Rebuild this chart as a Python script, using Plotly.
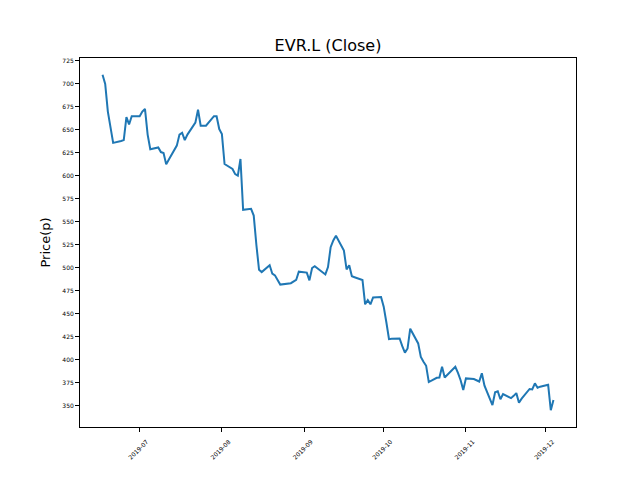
import pandas as pd
import plotly.graph_objects as go

dates = [
    "2019-06-17", "2019-06-18", "2019-06-19", "2019-06-20", "2019-06-21",
    "2019-06-24", "2019-06-25", "2019-06-26", "2019-06-27", "2019-06-28",
    "2019-07-01", "2019-07-02", "2019-07-03", "2019-07-04", "2019-07-05",
    "2019-07-08", "2019-07-09", "2019-07-10", "2019-07-11", "2019-07-12",
    "2019-07-15", "2019-07-16", "2019-07-17", "2019-07-18", "2019-07-19",
    "2019-07-22", "2019-07-23", "2019-07-24", "2019-07-25", "2019-07-26",
    "2019-07-29", "2019-07-30", "2019-07-31",
    "2019-08-01", "2019-08-02", "2019-08-05", "2019-08-06", "2019-08-07",
    "2019-08-08", "2019-08-09", "2019-08-12", "2019-08-13", "2019-08-14",
    "2019-08-15", "2019-08-16", "2019-08-19", "2019-08-20", "2019-08-21",
    "2019-08-22", "2019-08-23", "2019-08-27", "2019-08-28", "2019-08-29",
    "2019-08-30",
    "2019-09-02", "2019-09-03", "2019-09-04", "2019-09-05", "2019-09-06",
    "2019-09-09", "2019-09-10", "2019-09-11", "2019-09-12", "2019-09-13",
    "2019-09-16", "2019-09-17", "2019-09-18", "2019-09-19", "2019-09-20",
    "2019-09-23", "2019-09-24", "2019-09-25", "2019-09-26", "2019-09-27",
    "2019-09-30",
    "2019-10-01", "2019-10-02", "2019-10-03", "2019-10-04", "2019-10-07",
    "2019-10-08", "2019-10-09", "2019-10-10", "2019-10-11", "2019-10-14",
    "2019-10-15", "2019-10-16", "2019-10-17", "2019-10-18", "2019-10-21",
    "2019-10-22", "2019-10-23", "2019-10-24", "2019-10-25", "2019-10-28",
    "2019-10-29", "2019-10-30", "2019-10-31",
    "2019-11-01", "2019-11-04", "2019-11-05", "2019-11-06", "2019-11-07",
    "2019-11-08", "2019-11-11", "2019-11-12", "2019-11-13", "2019-11-14",
    "2019-11-15", "2019-11-18", "2019-11-19", "2019-11-20", "2019-11-21",
    "2019-11-22", "2019-11-25", "2019-11-26", "2019-11-27", "2019-11-28",
    "2019-11-29",
    "2019-12-02", "2019-12-03", "2019-12-04",
]

close = [
    710, 700, 670, 652, 636,
    638, 639, 664, 656, 665,
    665, 670, 673, 645, 629,
    631, 626, 625, 612.6, 618,
    633, 645, 647, 639, 645,
    658, 672, 654.6, 654.6, 654.6,
    665, 665, 651,
    645.5, 613, 607.6, 602, 600.4,
    618.5, 563.2, 564.3, 557, 525,
    498, 495.5, 503, 493.8, 492,
    487, 482, 483.5, 485, 487,
    496,
    495, 486.6, 500, 502, 500,
    493, 501, 522.6, 530, 535,
    519, 498.5, 503, 491, 490,
    487, 460.5, 465, 460.5, 468,
    468.5,
    458, 441, 422.6, 423, 423.4,
    415, 408, 412.5, 434, 418,
    403.4, 398, 393.7, 376, 380.7,
    381, 392.6, 381, 384, 392.6,
    386, 378, 367.4,
    380, 379.3, 378, 376.6, 385.5,
    372, 351, 365, 366, 357.3,
    363, 358.5, 361, 364, 353.6,
    358, 368.5, 368, 374.6, 369.8,
    371,
    373, 345.4, 356.5,
]

tick_dates = ["2019-07-01", "2019-08-01", "2019-09-01", "2019-10-01", "2019-11-01", "2019-12-01"]
tick_labels = ["2019-07", "2019-08", "2019-09", "2019-10", "2019-11", "2019-12"]
y_ticks = list(range(350, 726, 25))

x = pd.to_datetime(dates)
span = x.max() - x.min()
x_range = [x.min() - 0.05 * span, x.max() + 0.05 * span]
ymin, ymax = min(close), max(close)
yspan = ymax - ymin
y_range = [ymin - 0.05 * yspan, ymax + 0.05 * yspan]

FONT = "DejaVu Sans"

fig = go.Figure()
fig.add_trace(go.Scatter(
    x=x, y=close, mode="lines",
    line=dict(color="#1f77b4", width=2),
    showlegend=False,
))

fig.update_layout(
    width=640, height=480,
    paper_bgcolor="white", plot_bgcolor="white",
    margin=dict(l=72, r=72, t=50, b=61, autoexpand=False),
    font=dict(family=FONT, color="black"),
    title=dict(text="EVR.L (Close)", x=0.5, xref="paper", xanchor="center",
               y=1, yref="paper", yanchor="bottom", pad=dict(b=7),
               font=dict(family=FONT, size=16, color="black")),
)

fig.update_xaxes(
    range=x_range,
    tickmode="array", tickvals=pd.to_datetime(tick_dates), ticktext=tick_labels,
    tickangle=-45, tickfont=dict(family=FONT, size=6, color="black"),
    ticklabelshift=7, ticklabelstandoff=4,
    ticks="outside", ticklen=4, tickwidth=1, tickcolor="black",
    showline=True, linecolor="black", linewidth=1, mirror=True,
    showgrid=False, zeroline=False, automargin=False,
)
fig.update_yaxes(
    range=y_range,
    tickmode="array", tickvals=y_ticks, ticktext=[str(v) for v in y_ticks],
    tickfont=dict(family=FONT, size=6, color="black"),
    ticks="outside", ticklen=4, tickwidth=1, tickcolor="black",
    showline=True, linecolor="black", linewidth=1, mirror=True,
    showgrid=False, zeroline=False, automargin=False,
    title=dict(text="Price(p)", font=dict(family=FONT, size=13, color="black"), standoff=8),
)

fig.write_html("out.html")
